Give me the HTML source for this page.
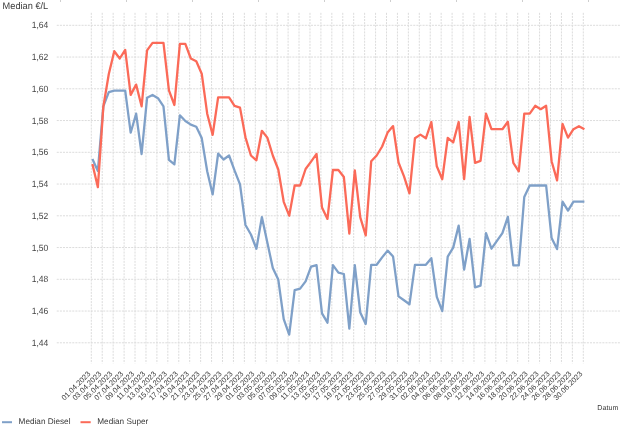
<!DOCTYPE html>
<html><head><meta charset="utf-8"><style>
html,body{margin:0;padding:0;background:#fff;}
body{width:626px;height:429px;overflow:hidden;}
svg{display:block;font-family:"Liberation Sans",sans-serif;text-rendering:geometricPrecision;will-change:transform;}
</style></head><body>
<svg width="626" height="429" viewBox="0 0 626 429">
<rect width="626" height="429" fill="#fff"/>

<g stroke="#cfcfcf" stroke-width="1">
<line x1="60.5" y1="0" x2="60.5" y2="2"/>
<line x1="126.5" y1="0" x2="126.5" y2="2"/>
<line x1="192.5" y1="0" x2="192.5" y2="2"/>
<line x1="258.5" y1="0" x2="258.5" y2="2"/>
<line x1="324.5" y1="0" x2="324.5" y2="2"/>
<line x1="390.5" y1="0" x2="390.5" y2="2"/>
<line x1="456.5" y1="0" x2="456.5" y2="2"/>
<line x1="522.5" y1="0" x2="522.5" y2="2"/>
<line x1="588.5" y1="0" x2="588.5" y2="2"/>
</g>
<g stroke="#dcdcdc" stroke-width="1" stroke-dasharray="2.05,1.05" fill="none">
<line x1="55.8" y1="25.30" x2="620.5" y2="25.30" stroke-dashoffset="-0.96"/>
<line x1="55.8" y1="57.05" x2="620.5" y2="57.05" stroke-dashoffset="-0.96"/>
<line x1="55.8" y1="88.80" x2="620.5" y2="88.80" stroke-dashoffset="-0.96"/>
<line x1="55.8" y1="120.55" x2="620.5" y2="120.55" stroke-dashoffset="-0.96"/>
<line x1="55.8" y1="152.30" x2="620.5" y2="152.30" stroke-dashoffset="-0.96"/>
<line x1="55.8" y1="184.05" x2="620.5" y2="184.05" stroke-dashoffset="-0.96"/>
<line x1="55.8" y1="215.80" x2="620.5" y2="215.80" stroke-dashoffset="-0.96"/>
<line x1="55.8" y1="247.55" x2="620.5" y2="247.55" stroke-dashoffset="-0.96"/>
<line x1="55.8" y1="279.30" x2="620.5" y2="279.30" stroke-dashoffset="-0.96"/>
<line x1="55.8" y1="311.05" x2="620.5" y2="311.05" stroke-dashoffset="-0.96"/>
<line x1="55.8" y1="342.80" x2="620.5" y2="342.80" stroke-dashoffset="-0.96"/>
<line x1="91.30" y1="12.8" x2="91.30" y2="363.4"/>
<line x1="102.23" y1="12.8" x2="102.23" y2="363.4"/>
<line x1="113.17" y1="12.8" x2="113.17" y2="363.4"/>
<line x1="124.10" y1="12.8" x2="124.10" y2="363.4"/>
<line x1="135.03" y1="12.8" x2="135.03" y2="363.4"/>
<line x1="145.97" y1="12.8" x2="145.97" y2="363.4"/>
<line x1="156.90" y1="12.8" x2="156.90" y2="363.4"/>
<line x1="167.83" y1="12.8" x2="167.83" y2="363.4"/>
<line x1="178.77" y1="12.8" x2="178.77" y2="363.4"/>
<line x1="189.70" y1="12.8" x2="189.70" y2="363.4"/>
<line x1="200.63" y1="12.8" x2="200.63" y2="363.4"/>
<line x1="211.57" y1="12.8" x2="211.57" y2="363.4"/>
<line x1="222.50" y1="12.8" x2="222.50" y2="363.4"/>
<line x1="233.43" y1="12.8" x2="233.43" y2="363.4"/>
<line x1="244.37" y1="12.8" x2="244.37" y2="363.4"/>
<line x1="255.30" y1="12.8" x2="255.30" y2="363.4"/>
<line x1="266.23" y1="12.8" x2="266.23" y2="363.4"/>
<line x1="277.17" y1="12.8" x2="277.17" y2="363.4"/>
<line x1="288.10" y1="12.8" x2="288.10" y2="363.4"/>
<line x1="299.03" y1="12.8" x2="299.03" y2="363.4"/>
<line x1="309.97" y1="12.8" x2="309.97" y2="363.4"/>
<line x1="320.90" y1="12.8" x2="320.90" y2="363.4"/>
<line x1="331.83" y1="12.8" x2="331.83" y2="363.4"/>
<line x1="342.77" y1="12.8" x2="342.77" y2="363.4"/>
<line x1="353.70" y1="12.8" x2="353.70" y2="363.4"/>
<line x1="364.63" y1="12.8" x2="364.63" y2="363.4"/>
<line x1="375.57" y1="12.8" x2="375.57" y2="363.4"/>
<line x1="386.50" y1="12.8" x2="386.50" y2="363.4"/>
<line x1="397.43" y1="12.8" x2="397.43" y2="363.4"/>
<line x1="408.37" y1="12.8" x2="408.37" y2="363.4"/>
<line x1="419.30" y1="12.8" x2="419.30" y2="363.4"/>
<line x1="430.23" y1="12.8" x2="430.23" y2="363.4"/>
<line x1="441.17" y1="12.8" x2="441.17" y2="363.4"/>
<line x1="452.10" y1="12.8" x2="452.10" y2="363.4"/>
<line x1="463.03" y1="12.8" x2="463.03" y2="363.4"/>
<line x1="473.97" y1="12.8" x2="473.97" y2="363.4"/>
<line x1="484.90" y1="12.8" x2="484.90" y2="363.4"/>
<line x1="495.83" y1="12.8" x2="495.83" y2="363.4"/>
<line x1="506.77" y1="12.8" x2="506.77" y2="363.4"/>
<line x1="517.70" y1="12.8" x2="517.70" y2="363.4"/>
<line x1="528.63" y1="12.8" x2="528.63" y2="363.4"/>
<line x1="539.57" y1="12.8" x2="539.57" y2="363.4"/>
<line x1="550.50" y1="12.8" x2="550.50" y2="363.4"/>
<line x1="561.43" y1="12.8" x2="561.43" y2="363.4"/>
<line x1="572.37" y1="12.8" x2="572.37" y2="363.4"/>
<line x1="583.30" y1="12.8" x2="583.30" y2="363.4"/>
</g>
<g font-size="9.0" fill="#444" text-anchor="end">
<text x="48.3" y="28.40" textLength="16.6" lengthAdjust="spacingAndGlyphs">1,64</text>
<text x="48.3" y="60.15" textLength="16.6" lengthAdjust="spacingAndGlyphs">1,62</text>
<text x="48.3" y="91.90" textLength="16.6" lengthAdjust="spacingAndGlyphs">1,60</text>
<text x="48.3" y="123.65" textLength="16.6" lengthAdjust="spacingAndGlyphs">1,58</text>
<text x="48.3" y="155.40" textLength="16.6" lengthAdjust="spacingAndGlyphs">1,56</text>
<text x="48.3" y="187.15" textLength="16.6" lengthAdjust="spacingAndGlyphs">1,54</text>
<text x="48.3" y="218.90" textLength="16.6" lengthAdjust="spacingAndGlyphs">1,52</text>
<text x="48.3" y="250.65" textLength="16.6" lengthAdjust="spacingAndGlyphs">1,50</text>
<text x="48.3" y="282.40" textLength="16.6" lengthAdjust="spacingAndGlyphs">1,48</text>
<text x="48.3" y="314.15" textLength="16.6" lengthAdjust="spacingAndGlyphs">1,46</text>
<text x="48.3" y="345.90" textLength="16.6" lengthAdjust="spacingAndGlyphs">1,44</text>
</g>
<text x="2.6" y="8.8" font-size="9.6" fill="#3a3a3a" textLength="45.6" lengthAdjust="spacingAndGlyphs">Median €/L</text>
<polyline points="92.40,159.00 97.87,170.90 103.33,106.30 108.80,92.20 114.27,90.60 119.73,90.60 125.20,90.60 130.67,132.70 136.13,113.70 141.60,154.00 147.07,97.80 152.53,94.90 158.00,98.20 163.47,106.30 168.93,159.80 174.40,164.40 179.87,115.30 185.33,121.00 190.80,124.60 196.27,126.70 201.73,138.10 207.20,171.20 212.67,194.40 218.13,153.60 223.60,159.50 229.07,155.50 234.53,170.40 240.00,184.30 245.47,225.00 250.93,234.50 256.40,248.80 261.87,217.10 267.33,242.60 272.80,267.90 278.27,279.50 283.73,319.20 289.20,334.60 294.67,290.10 300.13,288.60 305.60,281.40 311.07,266.70 316.53,265.10 322.00,313.40 327.47,322.70 332.93,265.10 338.40,272.70 343.87,274.00 349.33,328.60 354.80,265.10 360.27,312.60 365.73,324.00 371.20,264.80 376.67,264.80 382.13,257.40 387.60,250.60 393.07,256.60 398.53,296.40 404.00,300.30 409.47,304.30 414.93,264.80 420.40,264.80 425.87,264.80 431.33,258.20 436.80,296.90 442.27,311.10 447.73,256.60 453.20,247.60 458.67,225.60 464.13,269.60 469.60,239.00 475.07,287.30 480.53,285.70 486.00,233.20 491.47,248.70 496.93,240.90 502.40,233.20 507.87,216.90 513.33,265.30 518.80,265.30 524.27,197.00 529.73,185.50 535.20,185.50 540.67,185.50 546.13,185.50 551.60,238.10 557.07,249.10 562.53,201.70 568.00,210.60 573.47,201.60 578.93,201.60 584.40,201.60" fill="none" stroke="#7fa0c8" stroke-width="2.3" stroke-linejoin="round" stroke-linecap="butt"/>
<polyline points="92.40,163.90 97.87,187.20 103.33,106.80 108.80,74.00 114.27,51.20 119.73,58.50 125.20,49.90 130.67,94.90 136.13,84.60 141.60,106.30 147.07,50.40 152.53,42.80 158.00,42.80 163.47,42.80 168.93,90.40 174.40,105.00 179.87,43.90 185.33,43.90 190.80,58.50 196.27,61.30 201.73,73.70 207.20,113.70 212.67,134.90 218.13,97.30 223.60,97.30 229.07,97.30 234.53,105.80 240.00,107.60 245.47,137.30 250.93,155.50 256.40,160.30 261.87,130.80 267.33,137.60 272.80,155.50 278.27,169.50 283.73,201.80 289.20,215.70 294.67,185.50 300.13,185.50 305.60,169.00 311.07,161.60 316.53,153.90 322.00,207.50 327.47,218.90 332.93,170.00 338.40,170.00 343.87,177.00 349.33,233.60 354.80,170.30 360.27,217.30 365.73,235.30 371.20,161.30 376.67,155.50 382.13,146.50 387.60,132.60 393.07,126.10 398.53,162.50 404.00,176.30 409.47,193.40 414.93,138.30 420.40,134.60 425.87,138.30 431.33,122.00 436.80,166.30 442.27,179.20 447.73,137.80 453.20,142.40 458.67,122.00 464.13,179.20 469.60,116.80 475.07,162.80 480.53,160.90 486.00,113.70 491.47,129.20 496.93,129.20 502.40,129.20 507.87,121.80 513.33,162.80 518.80,171.30 524.27,113.70 529.73,113.70 535.20,105.80 540.67,109.20 546.13,105.80 551.60,161.20 557.07,180.40 562.53,123.90 568.00,137.60 573.47,129.20 578.93,126.20 584.40,129.20" fill="none" stroke="#fb6a58" stroke-width="2.3" stroke-linejoin="round" stroke-linecap="butt"/>
<g font-size="7.5" fill="#3a3a3a" text-anchor="end">
<text transform="translate(91.00,374.30) rotate(-45)">01.04.2023</text>
<text transform="translate(101.93,374.30) rotate(-45)">03.04.2023</text>
<text transform="translate(112.87,374.30) rotate(-45)">05.04.2023</text>
<text transform="translate(123.80,374.30) rotate(-45)">07.04.2023</text>
<text transform="translate(134.73,374.30) rotate(-45)">09.04.2023</text>
<text transform="translate(145.67,374.30) rotate(-45)">11.04.2023</text>
<text transform="translate(156.60,374.30) rotate(-45)">13.04.2023</text>
<text transform="translate(167.53,374.30) rotate(-45)">15.04.2023</text>
<text transform="translate(178.47,374.30) rotate(-45)">17.04.2023</text>
<text transform="translate(189.40,374.30) rotate(-45)">19.04.2023</text>
<text transform="translate(200.33,374.30) rotate(-45)">21.04.2023</text>
<text transform="translate(211.27,374.30) rotate(-45)">23.04.2023</text>
<text transform="translate(222.20,374.30) rotate(-45)">25.04.2023</text>
<text transform="translate(233.13,374.30) rotate(-45)">27.04.2023</text>
<text transform="translate(244.07,374.30) rotate(-45)">29.04.2023</text>
<text transform="translate(255.00,374.30) rotate(-45)">01.05.2023</text>
<text transform="translate(265.93,374.30) rotate(-45)">03.05.2023</text>
<text transform="translate(276.87,374.30) rotate(-45)">05.05.2023</text>
<text transform="translate(287.80,374.30) rotate(-45)">07.05.2023</text>
<text transform="translate(298.73,374.30) rotate(-45)">09.05.2023</text>
<text transform="translate(309.67,374.30) rotate(-45)">11.05.2023</text>
<text transform="translate(320.60,374.30) rotate(-45)">13.05.2023</text>
<text transform="translate(331.53,374.30) rotate(-45)">15.05.2023</text>
<text transform="translate(342.47,374.30) rotate(-45)">17.05.2023</text>
<text transform="translate(353.40,374.30) rotate(-45)">19.05.2023</text>
<text transform="translate(364.33,374.30) rotate(-45)">21.05.2023</text>
<text transform="translate(375.27,374.30) rotate(-45)">23.05.2023</text>
<text transform="translate(386.20,374.30) rotate(-45)">25.05.2023</text>
<text transform="translate(397.13,374.30) rotate(-45)">27.05.2023</text>
<text transform="translate(408.07,374.30) rotate(-45)">29.05.2023</text>
<text transform="translate(419.00,374.30) rotate(-45)">31.05.2023</text>
<text transform="translate(429.93,374.30) rotate(-45)">02.06.2023</text>
<text transform="translate(440.87,374.30) rotate(-45)">04.06.2023</text>
<text transform="translate(451.80,374.30) rotate(-45)">06.06.2023</text>
<text transform="translate(462.73,374.30) rotate(-45)">08.06.2023</text>
<text transform="translate(473.67,374.30) rotate(-45)">10.06.2023</text>
<text transform="translate(484.60,374.30) rotate(-45)">12.06.2023</text>
<text transform="translate(495.53,374.30) rotate(-45)">14.06.2023</text>
<text transform="translate(506.47,374.30) rotate(-45)">16.06.2023</text>
<text transform="translate(517.40,374.30) rotate(-45)">18.06.2023</text>
<text transform="translate(528.33,374.30) rotate(-45)">20.06.2023</text>
<text transform="translate(539.27,374.30) rotate(-45)">22.06.2023</text>
<text transform="translate(550.20,374.30) rotate(-45)">24.06.2023</text>
<text transform="translate(561.13,374.30) rotate(-45)">26.06.2023</text>
<text transform="translate(572.07,374.30) rotate(-45)">28.06.2023</text>
<text transform="translate(583.00,374.30) rotate(-45)">30.06.2023</text>
</g>
<text x="597.3" y="410.4" font-size="7.15" fill="#3a3a3a">Datum</text>
<line x1="2" y1="422.2" x2="12" y2="422.2" stroke="#7fa0c8" stroke-width="2"/>
<text x="18.6" y="424.3" font-size="8.2" fill="#383838">Median Diesel</text>
<line x1="80.5" y1="422.2" x2="90.7" y2="422.2" stroke="#fb6a58" stroke-width="2"/>
<text x="97.3" y="424.3" font-size="8.2" fill="#383838">Median Super</text>
</svg>
</body></html>
